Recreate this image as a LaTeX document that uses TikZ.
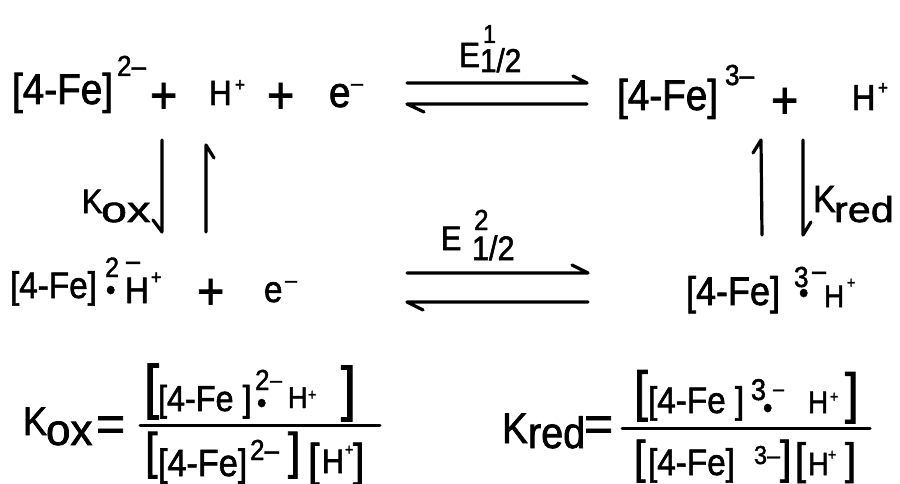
\documentclass[tikz,border=0pt]{standalone}
\usepackage{fontspec}
\setmainfont{Liberation Sans}[FakeStretch=0.9,FakeBold=1.6]
\newfontfamily\fN{Liberation Sans}[FakeBold=1.6]
\newfontfamily\fW{Liberation Sans}[FakeStretch=1.15,FakeBold=1.6]
\newfontfamily\fX{Liberation Sans}[FakeStretch=1.3,FakeBold=1.6]
\newcommand\fs[1]{\fontsize{#1}{#1}\selectfont}
\tikzset{
  tok/.style={anchor=base west, inner sep=0pt, outer sep=0pt},
  arr/.style={line width=3.2pt, line cap=round, line join=round},
  frac/.style={line width=3pt, line cap=round}
}
\newcommand\tok[5]{\node[tok] (#1) at (#2,#3) {\fs{#4}#5};}
\begin{document}
\begin{tikzpicture}[x=1pt,y=-1pt]
\path[use as bounding box] (0,0) rectangle (900,484);
% ---------- row 1 left
\tok{a1}{12}{104}{43}{[4-Fe]}
\tok{a1s}{117}{76}{29}{2–}
\tok{p1}{150}{113}{52}{+}
\tok{h1}{209}{105}{35}{H}
\tok{h1s}{235}{91}{19}{+}
\tok{p2}{267}{113}{52}{+}
\tok{e1}{329}{107}{43}{e}
\tok{e1s}{351}{91}{24}{–}
% ---------- E1
\tok{E1}{459}{67}{35}{E}
\tok{E1a}{483}{43}{26}{1}
\tok{E1b}{480}{72}{33}{1/2}
% ---------- row 1 right
\tok{b1}{617}{110}{43}{[4-Fe]}
\tok{b1s}{725}{85}{29}{3–}
\tok{p3}{771}{118}{52}{+}
\tok{h2}{852}{110}{36}{H}
\tok{h2s}{878}{94}{19}{+}
% ---------- side labels
\tok{k1}{82}{213}{34}{K}
\tok{k1s}{101}{222}{36}{\fX ox}
\tok{k2}{813}{212}{38}{K}
\tok{k2s}{834}{222}{36}{\fW red}
% ---------- row 2 left
\tok{c1}{10}{298}{37}{[4-Fe]}
\tok{c1s}{105}{277}{28}{2}
\tok{c1d}{106}{300}{30}{•}
\tok{c1m}{126}{270}{28}{–}
\tok{c1h}{125}{303}{37}{H}
\tok{c1hs}{151}{284}{20}{+}
\tok{p4}{197}{309}{52}{+}
\tok{e2}{264}{302}{37}{e}
\tok{e2s}{285}{288}{24}{–}
% ---------- E2
\tok{E2}{441}{250}{34}{E}
\tok{E2a}{474}{230}{29}{2}
\tok{E2b}{472}{260}{34}{1/2}
% ---------- row 2 right
\tok{d1}{686}{305}{40}{[4-Fe]}
\tok{d1s}{794}{287}{29}{3}
\tok{d1d}{799}{303}{30}{•}
\tok{d1m}{812}{280}{28}{–}
\tok{d1h}{824}{307}{31}{H}
\tok{d1hs}{847}{288}{16}{+}
% ---------- Kox equation
\tok{k3}{23}{435}{40}{K}
\tok{k3s}{46}{445}{44}{\fN ox}
\tok{q1}{96}{441}{50}{\fN =}
\tok{n1o}{144}{407}{60}{[}
\tok{n1a}{158}{411}{36}{[4-Fe ]}
\tok{n1s}{255}{390}{29}{2}
\tok{n1d}{257}{413}{30}{•}
\tok{n1m}{270}{388}{24}{–}
\tok{n1h}{288}{408}{30}{H}
\tok{n1hs}{308}{400}{16}{+}
\tok{n1c}{341}{409}{60}{]}
\tok{m1o}{145}{468}{50}{[}
\tok{m1a}{158}{476}{38}{[4-Fe]}
\tok{m1s}{250}{460}{29}{2–}
\tok{m1c}{288}{468}{50}{]}
\tok{m1d}{308}{476}{46}{[}
\tok{m1h}{322}{473}{34}{H}
\tok{m1hs}{345}{455}{16}{+}
\tok{m1e}{353}{476}{46}{]}
% ---------- Kred equation
\tok{k4}{502}{443}{43}{K}
\tok{k4s}{528}{448}{44}{red}
\tok{q2}{584}{441}{50}{\fN =}
\tok{n2o}{634}{410}{55}{[}
\tok{n2a}{648}{413}{37}{[4-Fe ]}
\tok{n2s}{751}{400}{30}{3}
\tok{n2d}{763}{418}{30}{•}
\tok{n2m}{773}{396}{22}{–}
\tok{n2h}{808}{413}{31}{H}
\tok{n2hs}{830}{402}{16}{+}
\tok{n2c}{845}{412}{55}{]}
\tok{m2o}{634}{473}{46}{[}
\tok{m2a}{648}{475}{37}{[4-Fe]}
\tok{m2s}{754}{464}{26}{3–}
\tok{m2c}{780}{473}{46}{]}
\tok{m2d}{795}{474}{44}{[}
\tok{m2h}{808}{475}{32}{H}
\tok{m2hs}{828}{460}{16}{+}
\tok{m2e}{845}{474}{44}{]}
% ---------- fraction bars
\coordinate (f1a) at (140,425); \coordinate (f1b) at (380,425);
\coordinate (f2a) at (622,428); \coordinate (f2b) at (870,428);
\draw[frac] (f1a) -- (f1b);
\draw[frac] (f2a) -- (f2b);
% ---------- horizontal equilibrium arrows
\coordinate (r1a) at (407,83);  \coordinate (r1b) at (587,83);
\coordinate (r1c) at (407,104); \coordinate (r1d) at (587,104);
\draw[arr] (r1a) -- (r1b) -- ++(-14,-7);
\draw[arr] (r1d) -- (r1c) -- ++(17,8);
\coordinate (r2a) at (407,273); \coordinate (r2b) at (588,273);
\coordinate (r2c) at (407,302); \coordinate (r2d) at (588,302);
\draw[arr] (r2a) -- (r2b) -- ++(-16,-8);
\draw[arr] (r2d) -- (r2c) -- ++(16,8);
% ---------- vertical arrows
\coordinate (v1a) at (162,140); \coordinate (v1b) at (162,232);
\draw[arr] (v1a) -- (v1b) -- ++(-9,-12);
\coordinate (v2a) at (206,232); \coordinate (v2b) at (206,145);
\draw[arr] (v2a) -- (v2b) -- ++(8,13);
\coordinate (v3a) at (762,235); \coordinate (v3b) at (761,140);
\draw[arr] (v3a) -- (v3b) -- ++(-8,13);
\coordinate (v4a) at (803,140); \coordinate (v4b) at (803,235);
\draw[arr] (v4a) -- (v4b) -- ++(8,-13);
\end{tikzpicture}
\end{document}
